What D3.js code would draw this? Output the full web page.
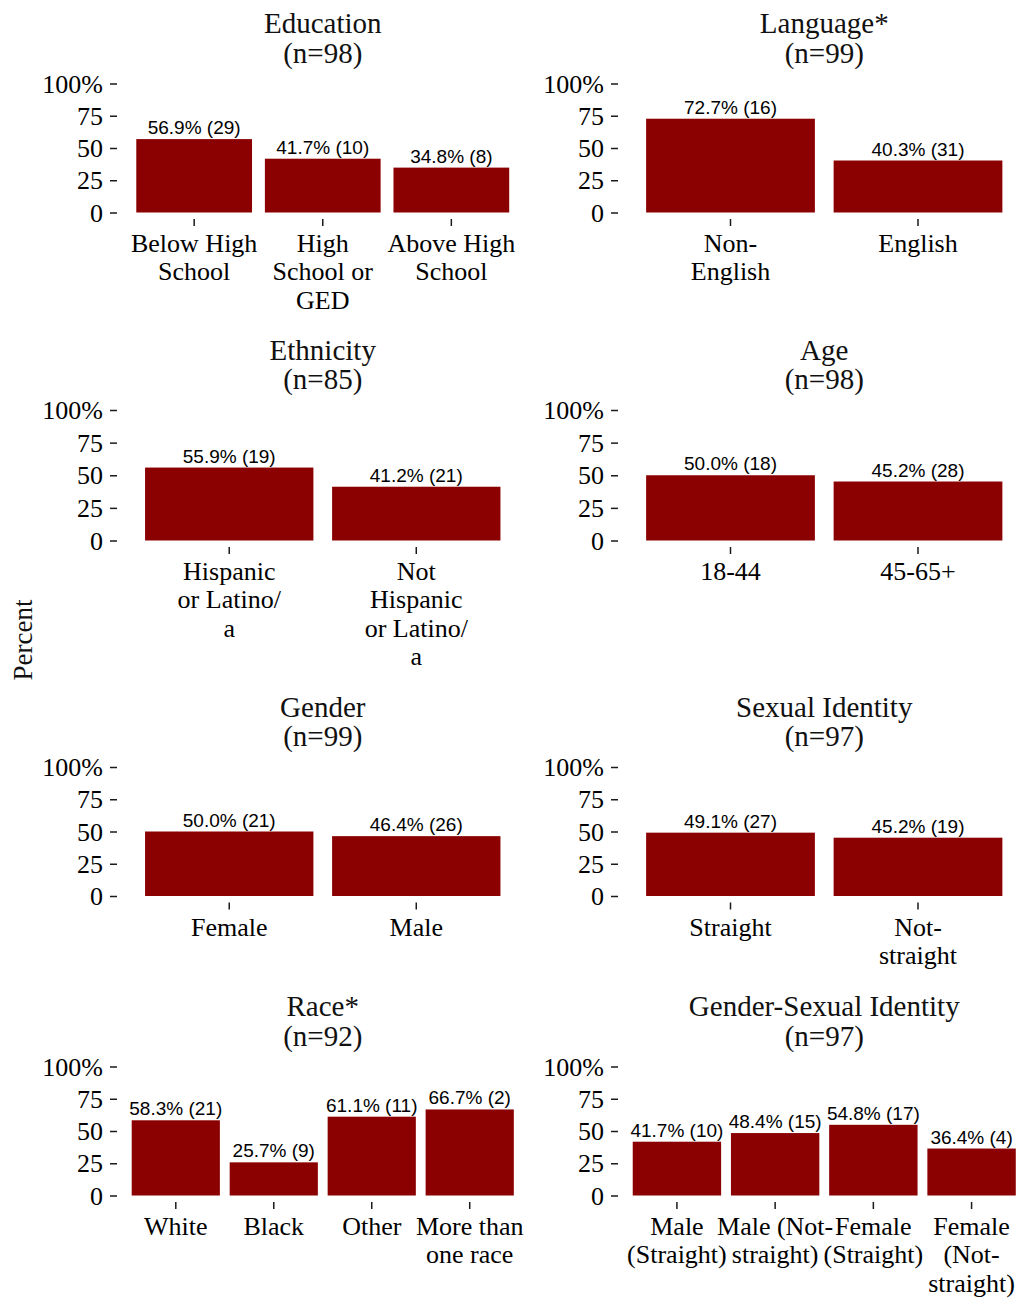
<!DOCTYPE html>
<html>
<head>
<meta charset="utf-8">
<script src="https://cdn.jsdelivr.net/npm/d3@7"></script>
<style>
  html, body { margin: 0; padding: 0; background: #fff; }
  svg { display: block; }
</style>
</head>
<body>
<script>
// ---------- DATA ----------
const eduTitle = "Education", eduN = 98;
const eduCats = ["Below High\nSchool", "High\nSchool or\nGED", "Above High\nSchool"];
const eduPct = [56.9, 41.7, 34.8];
const eduCount = [29, 10, 8];

const langTitle = "Language*", langN = 99;
const langCats = ["Non-\nEnglish", "English"];
const langPct = [72.7, 40.3];
const langCount = [16, 31];

const ethTitle = "Ethnicity", ethN = 85;
const ethCats = ["Hispanic\nor Latino/\na", "Not\nHispanic\nor Latino/\na"];
const ethPct = [55.9, 41.2];
const ethCount = [19, 21];

const ageTitle = "Age", ageN = 98;
const ageCats = ["18-44", "45-65+"];
const agePct = [50.0, 45.2];
const ageCount = [18, 28];

const genTitle = "Gender", genN = 99;
const genCats = ["Female", "Male"];
const genPct = [50.0, 46.4];
const genCount = [21, 26];

const sexTitle = "Sexual Identity", sexN = 97;
const sexCats = ["Straight", "Not-\nstraight"];
const sexPct = [49.1, 45.2];
const sexCount = [27, 19];

const raceTitle = "Race*", raceN = 92;
const raceCats = ["White", "Black", "Other", "More than\none race"];
const racePct = [58.3, 25.7, 61.1, 66.7];
const raceCount = [21, 9, 11, 2];

const gsiTitle = "Gender-Sexual Identity", gsiN = 97;
const gsiCats = ["Male\n(Straight)", "Male (Not-\nstraight)", "Female\n(Straight)", "Female\n(Not-\nstraight)"];
const gsiPct = [41.7, 48.4, 54.8, 36.4];
const gsiCount = [10, 15, 17, 4];

const yTicks = [0, 25, 50, 75, 100];
const yTickLabels = ["0", "25", "50", "75", "100%"];
const yAxisTitle = "Percent";

// ---------- LAYOUT ----------
const W = 1019, H = 1299;
const rowTop  = [83.5, 410, 767, 1066.5];
const rowZero = [212.5, 540.5, 896, 1195.5];
const colRange = [[117, 528.5], [618, 1030.5]];
const barColor = "#8B0000";
const serif = "'Liberation Serif', 'Times New Roman', serif";
const sans = "'Liberation Sans', Arial, sans-serif";

const panels = [
  {title: eduTitle, n: eduN, cats: eduCats, pct: eduPct, cnt: eduCount, row: 0, col: 0},
  {title: langTitle, n: langN, cats: langCats, pct: langPct, cnt: langCount, row: 0, col: 1},
  {title: ethTitle, n: ethN, cats: ethCats, pct: ethPct, cnt: ethCount, row: 1, col: 0},
  {title: ageTitle, n: ageN, cats: ageCats, pct: agePct, cnt: ageCount, row: 1, col: 1},
  {title: genTitle, n: genN, cats: genCats, pct: genPct, cnt: genCount, row: 2, col: 0},
  {title: sexTitle, n: sexN, cats: sexCats, pct: sexPct, cnt: sexCount, row: 2, col: 1},
  {title: raceTitle, n: raceN, cats: raceCats, pct: racePct, cnt: raceCount, row: 3, col: 0},
  {title: gsiTitle, n: gsiN, cats: gsiCats, pct: gsiPct, cnt: gsiCount, row: 3, col: 1}
];

const svg = d3.select("body").append("svg")
  .attr("width", W).attr("height", H)
  .attr("viewBox", `0 0 ${W} ${H}`);
svg.append("rect").attr("width", W).attr("height", H).attr("fill", "#fff");

panels.forEach(p => {
  const [x0, x1] = colRange[p.col];
  const top = rowTop[p.row], zero = rowZero[p.row];
  const x = d3.scaleBand().domain(p.cats).range([x0, x1])
    .paddingInner(0.1).paddingOuter(0.15).align(0.5);
  const y = d3.scaleLinear().domain([0, 100]).range([zero, top]);
  const g = svg.append("g");
  const cx = (x0 + x1) / 2;

  // Title
  const t = g.append("text")
    .attr("text-anchor", "middle")
    .attr("font-family", serif).attr("font-size", 29).attr("fill", "#111");
  t.append("tspan").attr("x", cx).attr("y", top - 50.5).text(p.title);
  t.append("tspan").attr("x", cx).attr("y", top - 21).text(`(n=${p.n})`);

  // Y axis
  const ya = g.append("g").attr("transform", `translate(${x0},0)`)
    .call(d3.axisLeft(y).tickValues(yTicks)
      .tickFormat((d, i) => yTickLabels[i]).tickSizeInner(7).tickSizeOuter(0).tickPadding(7));
  ya.select(".domain").remove();
  ya.selectAll(".tick line").attr("stroke", "#1a1a1a").attr("stroke-width", 1.5);
  ya.selectAll(".tick text").attr("font-family", serif).attr("font-size", 26)
    .attr("fill", "#000").attr("dy", "0.33em");

  // X axis
  const xa = g.append("g").attr("transform", `translate(0,${zero + 6.5})`)
    .call(d3.axisBottom(x).tickSizeInner(7).tickSizeOuter(0).tickPadding(0));
  xa.select(".domain").remove();
  xa.selectAll(".tick line").attr("stroke", "#1a1a1a").attr("stroke-width", 1.5);
  xa.selectAll(".tick text").each(function(d) {
    const sel = d3.select(this).text(null)
      .attr("font-family", serif).attr("font-size", 26).attr("fill", "#000")
      .attr("y", 0).attr("dy", null);
    d.split("\n").forEach((line, i) => {
      sel.append("tspan").attr("x", 0).attr("y", 33 + i * 28.3).text(line);
    });
  });

  // Bars
  const data = p.cats.map((c, i) => ({c, v: p.pct[i], n: p.cnt[i]}));
  g.selectAll("rect.bar").data(data).join("rect")
    .attr("class", "bar")
    .attr("x", d => x(d.c)).attr("width", x.bandwidth())
    .attr("y", d => y(d.v)).attr("height", d => y(0) - y(d.v))
    .attr("fill", barColor);

  // Value labels
  g.selectAll("text.val").data(data).join("text")
    .attr("class", "val")
    .attr("x", d => x(d.c) + x.bandwidth() / 2)
    .attr("y", d => y(d.v) - 5)
    .attr("text-anchor", "middle")
    .attr("font-family", sans).attr("font-size", 19).attr("fill", "#000")
    .text(d => `${d.v.toFixed(1)}% (${d.n})`);
});

// Shared y-axis title
svg.append("text")
  .attr("transform", "translate(31.5,640) rotate(-90)")
  .attr("text-anchor", "middle")
  .attr("font-family", serif).attr("font-size", 27).attr("fill", "#111")
  .text(yAxisTitle);
</script>
</body>
</html>
